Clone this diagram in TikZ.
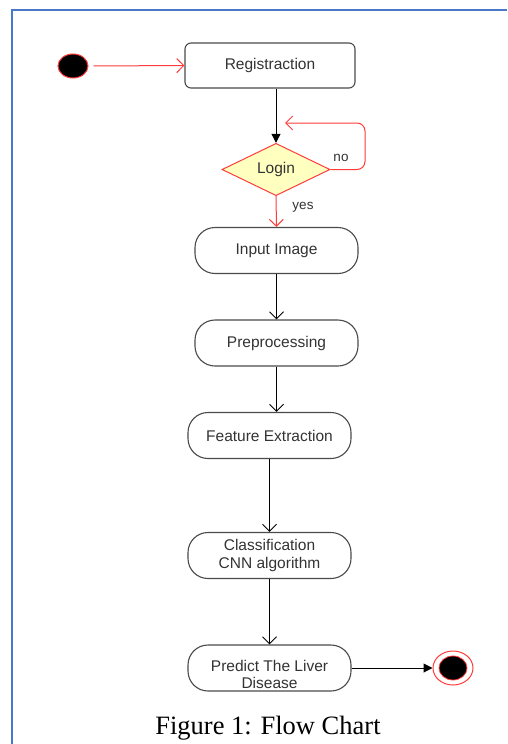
\documentclass[tikz,border=0pt]{standalone}
\usepackage{fontspec}
\setmainfont{Liberation Serif}
\newfontfamily\arialf{Liberation Sans}
\usetikzlibrary{shapes.geometric,arrows.meta}
\definecolor{flred}{HTML}{FF3B3B}
\definecolor{flyellow}{HTML}{FFFFC0}
\definecolor{flblue}{HTML}{4A78C8}
\definecolor{fledge}{HTML}{4A4A4A}
\definecolor{fltext}{HTML}{333333}
\tikzset{
  x=1pt, y=-1pt,
  box/.style={draw=fledge, line width=1.1pt, fill=white, rounded corners=6pt,
    minimum width=170pt, minimum height=45pt, inner sep=0pt,
    font=\arialf\fontsize{15.5}{18}\selectfont, text=fltext, align=center},
  pill/.style={box, rounded corners=20pt, minimum width=163pt, minimum height=46pt},
  lbl/.style={font=\arialf\fontsize{13.5}{15}\selectfont, text=fltext, inner sep=0pt},
  opentip/.style={-{Straight Barb[length=7pt,width=14pt,line width=1pt]}},
  blocktip/.style={-{Triangle[length=9pt,width=9pt]}},
  redline/.style={draw=flred, line width=1pt},
  blkline/.style={draw=black, line width=1pt},
}
\begin{document}
\begin{tikzpicture}
\useasboundingbox (0,0) rectangle (507,744);
% frame
\draw[flblue, line width=2pt] (12,744) -- (12,10) -- (507,10);

% nodes
\node[ellipse, draw=flred, fill=black, line width=1pt, minimum width=30pt, minimum height=24pt, inner sep=0pt] (start) at (73,66) {};
\node[box] (reg) at (270,65.5) {Registraction};
\node[diamond, draw=flred, fill=flyellow, line width=1pt, minimum width=108pt, minimum height=45pt, inner sep=0pt,
      font=\arialf\fontsize{15.5}{18}\selectfont, text=fltext] (login) at (276,169.5) {Login};
\coordinate (loopend) at (285,123);
\node[pill] (input) at (276.5,250.5) {Input Image};
\node[pill] (pre) at (276.5,343) {Preprocessing};
\node[pill] (feat) at (269.5,435.5) {Feature Extraction};
\node[pill] (cls) at (269.5,555.5) {Classification\\CNN algorithm};
\node[pill] (pred) at (269.5,668) {\raisebox{-12pt}[0pt][0pt]{\begin{tabular}{@{}c@{}}Predict The Liver\\[-1pt]Disease\end{tabular}}};
\node[ellipse, draw=flred, fill=white, line width=1pt, minimum width=40pt, minimum height=34pt, inner sep=0pt] (endo) at (453,668) {};
\node[ellipse, draw=flred, fill=black, line width=0.8pt, minimum width=28pt, minimum height=24pt, inner sep=0pt] (endi) at (453,668) {};

% labels
\node[lbl] (no) at (341,158) {no};
\node[lbl] (yes) at (303,207) {yes};

% connectors
\draw[redline, opentip] (start.east) ++(5,0) -- (reg.west);
\draw[blkline, blocktip] (reg.south -| login.north) -- (login.north);
\draw[redline, opentip, rounded corners=8pt] (login.east) -- (365,169.5) -- (365,123) -- (loopend);
\draw[redline, opentip] (login.south) -- (input.north);
\draw[blkline, opentip] (input.south) -- (pre.north);
\draw[blkline, opentip] (pre.south) -- (pre.south |- feat.north);
\draw[blkline, opentip] (feat.south) -- (cls.north);
\draw[blkline, opentip] (cls.south) -- (pred.north);
\draw[blkline, blocktip] (pred.east) -- (endo.west);

% caption
\node[anchor=base, inner sep=0pt, font=\fontsize{26.5}{30}\selectfont] (cap) at (268,734) {Figure 1: Flow Chart};
\end{tikzpicture}
\end{document}
